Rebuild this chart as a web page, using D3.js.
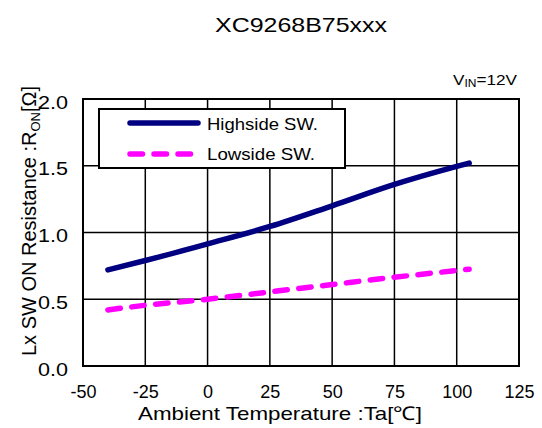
<!DOCTYPE html>
<html><head><meta charset="utf-8">
<script src="https://cdn.jsdelivr.net/npm/d3@7"></script>
<style>body{margin:0;background:#fff}svg{display:block;font-family:"Liberation Sans",Arial,sans-serif}</style>
</head><body><svg id="c" width="542" height="428"></svg>
<script>
const temps = [-40, -25, 0, 25, 50, 75, 100, 105];
const highside = [0.72, 0.79, 0.915, 1.045, 1.20, 1.36, 1.495, 1.52];
const lowside = [0.42, 0.455, 0.50, 0.555, 0.61, 0.665, 0.715, 0.725];
const xTicks = [-50, -25, 0, 25, 50, 75, 100, 125];
const yTicks = [0.0, 0.5, 1.0, 1.5, 2.0];
const seriesNames = ["Highside SW.", "Lowside SW."];

const svg = d3.select("#c");
const m = {l:83, r:519, t:99, b:366};
const x = d3.scaleLinear().domain([-50,125]).range([m.l,m.r]);
const y = d3.scaleLinear().domain([0,2]).range([m.b,m.t]);

// grid
svg.append("g").selectAll("line").data(xTicks).join("line")
  .attr("x1",d=>x(d)).attr("x2",d=>x(d)).attr("y1",m.t).attr("y2",m.b)
  .attr("stroke","#000").attr("stroke-width",1.5);
svg.append("g").selectAll("line").data(yTicks).join("line")
  .attr("x1",m.l).attr("x2",m.r).attr("y1",d=>y(d)).attr("y2",d=>y(d))
  .attr("stroke","#000").attr("stroke-width",1.5);
svg.append("rect").attr("x",m.l).attr("y",m.t).attr("width",m.r-m.l).attr("height",m.b-m.t)
  .attr("fill","none").attr("stroke","#000").attr("stroke-width",2);

// axes labels via d3 axes
const xAxis = svg.append("g").attr("transform",`translate(0,${m.b})`)
  .call(d3.axisBottom(x).tickValues(xTicks).tickSize(0).tickPadding(0).tickFormat(d=>String(d)));
xAxis.select(".domain").remove();
xAxis.selectAll("text").attr("font-size",18).attr("font-family","Liberation Sans, Arial")
  .attr("fill","#000").attr("dy",null).attr("y",32);
const yAxis = svg.append("g").attr("transform",`translate(${m.l},0)`)
  .call(d3.axisLeft(y).tickValues(yTicks).tickSize(0).tickPadding(0).tickFormat(d3.format(".1f")));
yAxis.select(".domain").remove();
yAxis.selectAll("text").attr("font-size",18).attr("font-family","Liberation Sans, Arial")
  .attr("fill","#000").attr("x",-15).attr("dy",null).attr("y",9)
  .attr("textLength",30).attr("lengthAdjust","spacingAndGlyphs");

// lines
const line = d3.line().x((d,i)=>x(temps[i])).y(d=>y(d)).curve(d3.curveMonotoneX);
svg.append("path").datum(highside).attr("d",line).attr("fill","none")
  .attr("stroke","#000080").attr("stroke-width",5.5).attr("stroke-linecap","round");
svg.append("path").datum(lowside).attr("d",line).attr("fill","none")
  .attr("stroke","#FF00FF").attr("stroke-width",5.5).attr("stroke-linecap","round")
  .attr("stroke-dasharray","12.5,11.5");

// legend
const lg = svg.append("g");
lg.append("rect").attr("x",99).attr("y",109).attr("width",246).attr("height",59)
  .attr("fill","#fff").attr("stroke","#000").attr("stroke-width",2);
lg.append("line").attr("x1",130).attr("x2",198).attr("y1",123).attr("y2",123)
  .attr("stroke","#000080").attr("stroke-width",5.5).attr("stroke-linecap","round");
lg.append("line").attr("x1",130).attr("x2",200).attr("y1",154).attr("y2",154)
  .attr("stroke","#FF00FF").attr("stroke-width",5.5).attr("stroke-linecap","round")
  .attr("stroke-dasharray","12.5,11.5");
const legW = [111, 108];
lg.selectAll("text").data(seriesNames).join("text")
  .attr("x",207).attr("y",(d,i)=>130+i*30).attr("font-size",17)
  .attr("textLength",(d,i)=>legW[i]).attr("lengthAdjust","spacingAndGlyphs").text(d=>d);

// title
svg.append("text").attr("x",215).attr("y",32)
  .attr("font-size",21).attr("textLength",172).attr("lengthAdjust","spacingAndGlyphs").text("XC9268B75xxx");
const vin = svg.append("text").attr("x",453).attr("y",85).attr("font-size",15)
  .attr("textLength",64).attr("lengthAdjust","spacingAndGlyphs");
vin.append("tspan").text("V");
vin.append("tspan").attr("font-size",10.5).attr("dy",2).text("IN");
vin.append("tspan").attr("dy",-2).text("=12V");

// axis titles
svg.append("text").attr("x",138).attr("y",420)
  .attr("font-size",19).attr("textLength",284).attr("lengthAdjust","spacingAndGlyphs")
  .text("Ambient Temperature :Ta[℃]");
const yt = svg.append("text").attr("transform","translate(36,221) rotate(-90)")
  .attr("text-anchor","middle").attr("font-size",20);
yt.append("tspan").text("Lx SW ON Resistance :R");
yt.append("tspan").attr("font-size",13).attr("dy",4).text("ON");
yt.append("tspan").attr("dy",-4).text("[Ω]");
</script></body></html>
